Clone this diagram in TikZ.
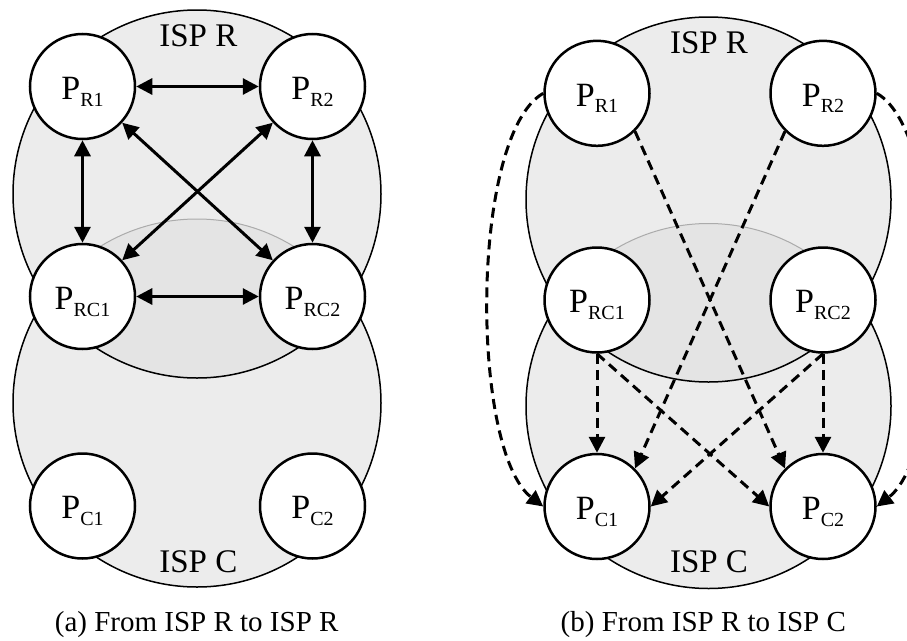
\documentclass[tikz,border=0pt]{standalone}
\usepackage{fontspec}
\setmainfont{Liberation Serif}
\usetikzlibrary{arrows.meta}
\definecolor{ispfill}{gray}{0.925}
\definecolor{ovfill}{gray}{0.894}
\definecolor{arcgray}{gray}{0.67}
\newcommand{\Psub}[1]{P\raisebox{-6.7pt}{\fontsize{20}{20}\selectfont #1}}
\newcommand{\ispPair}[4]{%
  \fill[ispfill] (#1,#2) circle[radius=#4] (#1,#3) circle[radius=#4];
  \begin{scope}
    \clip (#1,#2) circle[radius=#4];
    \fill[ovfill] (#1,#3) circle[radius=#4];
    \draw[arcgray,line width=1pt] (#1,#3) circle[radius=#4];
  \end{scope}
  \begin{scope}[even odd rule]
    \clip (-10,-10) rectangle (920,650) (#1,#2) circle[radius=#4];
    \draw[isp] (#1,#3) circle[radius=#4];
  \end{scope}
  \draw[isp] (#1,#2) circle[radius=#4];
}
\begin{document}
\begin{tikzpicture}[x=1pt,y=-1pt,
  >={Triangle[length=16pt,width=16pt]},
  peer/.style={circle,draw,fill=white,line width=2.5pt,minimum size=105pt,
    inner sep=0pt,text height=28pt,text depth=2.4pt,font=\fontsize{34}{40}\selectfont},
  isp/.style={line width=1.5pt},
  lbl/.style={anchor=base,font=\fontsize{33}{40}\selectfont,inner sep=0pt},
  captext/.style={anchor=base,font=\fontsize{29}{34}\selectfont,inner sep=0pt},
  solidlink/.style={<->,line width=3pt},
  dashlink/.style={->,line width=3pt,dash pattern=on 10pt off 6pt}]

\useasboundingbox (0,0) rectangle (907,640);
\fill[white] (0,0) rectangle (907,640);
\clip (0,0) rectangle (907,640);

% ---------- (a) ----------
\ispPair{197}{194}{403}{184pt}
\node[lbl] (aispR) at (198.3,46.7) {ISP R};
\node[lbl] (aispC) at (198.3,572.7) {ISP C};

\node[peer] (aR1)  at (82.5,86.5)  {\Psub{R1}};
\node[peer] (aR2)  at (312.5,86.5) {\Psub{R2}};
\node[peer] (aRC1) at (82.5,296.5) {\Psub{RC1}};
\node[peer] (aRC2) at (312.5,296.5) {\Psub{RC2}};
\node[peer] (aC1)  at (82.5,506)   {\Psub{C1}};
\node[peer] (aC2)  at (312.5,506)  {\Psub{C2}};

\draw[solidlink] (aR1) -- (aR2);
\draw[solidlink] (aRC1) -- (aRC2);
\draw[solidlink] (aR1) -- (aRC1);
\draw[solidlink] (aR2) -- (aRC2);
\draw[solidlink] (aR1) -- (aRC2);
\draw[solidlink] (aR2) -- (aRC1);

\node[captext] (acap) at (196.7,631.7) {(a) From ISP R to ISP R};

% ---------- (b) ----------
\ispPair{708.5}{199.5}{406}{182.5pt}
\node[lbl] (bispR) at (709,53.3) {ISP R};
\node[lbl] (bispC) at (709,572.7) {ISP C};

\node[peer] (bR1)  at (597,93.3)  {\Psub{R1}};
\node[peer] (bR2)  at (823,93.3)  {\Psub{R2}};
\node[peer] (bRC1) at (597,300)   {\Psub{RC1}};
\node[peer] (bRC2) at (823,300)   {\Psub{RC2}};
\node[peer] (bC1)  at (597,506.5) {\Psub{C1}};
\node[peer] (bC2)  at (823,506.5) {\Psub{C2}};

\draw[dashlink] (bR1.south east) -- (bC2.north west);
\draw[dashlink] (bR2.south west) -- (bC1.north east);
\draw[dashlink] (bRC1.south) -- (bC1.north);
\draw[dashlink] (bRC2.south) -- (bC2.north);
\draw[dashlink] (bRC1.south) -- (bC2.west);
\draw[dashlink] (bRC2.south) -- (bC1.east);
\draw[dashlink] (bR1.west) .. controls (470,135) and (470,450) .. (bC1.west);
\draw[dashlink] (bR2.east) .. controls (950,135) and (950,450) .. (bC2.east);

\node[captext] (bcap) at (703.3,631.7) {(b) From ISP R to ISP C};
\end{tikzpicture}
\end{document}
